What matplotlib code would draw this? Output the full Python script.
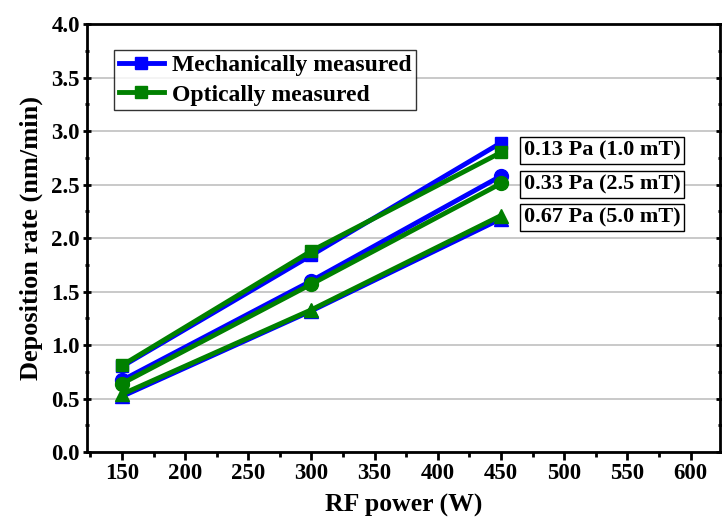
import matplotlib.pyplot as plt
from matplotlib.ticker import MultipleLocator

plt.rcParams['font.family'] = 'Liberation Serif'
plt.rcParams['font.weight'] = 'bold'

power = [150, 300, 450]
# mechanically measured (blue)
mech_013 = [0.80, 1.84, 2.89]
mech_033 = [0.67, 1.60, 2.58]
mech_067 = [0.52, 1.32, 2.18]
# optically measured (green)
opt_013 = [0.81, 1.88, 2.80]
opt_033 = [0.64, 1.57, 2.51]
opt_067 = [0.54, 1.33, 2.21]
labels = ['0.13 Pa (1.0 mT)', '0.33 Pa (2.5 mT)', '0.67 Pa (5.0 mT)']
label_y = [2.82, 2.50, 2.19]

blue = '#0000ff'
green = '#008000'

fig = plt.figure(figsize=(7.22, 5.22), dpi=100)
ax = fig.add_axes([0.1205, 0.134, 0.877, 0.82])

ax.yaxis.grid(True, color='#c0c0c0', lw=1.2, zorder=0)
ax.set_axisbelow(True)

lw = 3.5
ms = 9
ax.plot(power, mech_013, '-s', c=blue, lw=lw, ms=ms, label='Mechanically measured')
ax.plot(power, mech_033, '-o', c=blue, lw=lw, ms=ms + 1)
ax.plot(power, mech_067, '-^', c=blue, lw=lw, ms=ms + 1)
ax.plot(power, opt_013, '-s', c=green, lw=lw, ms=ms, label='Optically measured')
ax.plot(power, opt_033, '-o', c=green, lw=lw, ms=ms + 1)
ax.plot(power, opt_067, '-^', c=green, lw=lw, ms=ms + 1)

for txt, yy in zip(labels, label_y):
    ax.text(468, yy, txt, fontsize=16, fontweight='bold', va='center', ha='left',
            bbox=dict(boxstyle='square,pad=0.15', fc='white', ec='black', lw=1))

ax.set_xlim(122.3, 623.5)
ax.set_ylim(0, 4.0)
ax.xaxis.set_major_locator(MultipleLocator(50))
ax.xaxis.set_minor_locator(MultipleLocator(25))
ax.yaxis.set_major_locator(MultipleLocator(0.5))
ax.yaxis.set_minor_locator(MultipleLocator(0.25))
ax.yaxis.set_major_formatter(plt.FormatStrFormatter('%.1f'))

for s in ax.spines.values():
    s.set_linewidth(2)
ax.tick_params(which='major', direction='out', length=6, width=2, labelsize=16.5, pad=2)
ax.tick_params(which='minor', direction='out', length=3.5, width=2)
ax.tick_params(which='both', right=True)
ax.tick_params(axis='y', which='both', direction='inout')

ax.set_xlabel('RF power (W)', fontsize=18.5, fontweight='bold', labelpad=7)
ax.set_ylabel('Deposition rate (nm/min)', fontsize=19, fontweight='bold', labelpad=6)

leg = ax.legend(loc='upper left', bbox_to_anchor=(0.043, 0.94), fontsize=17, frameon=True,
                fancybox=False, edgecolor='black', handlelength=1.9, borderpad=0.2,
                labelspacing=0.35, handletextpad=0.35, borderaxespad=0)
leg.get_frame().set_linewidth(1)

fig.savefig('out.png', dpi=100)
